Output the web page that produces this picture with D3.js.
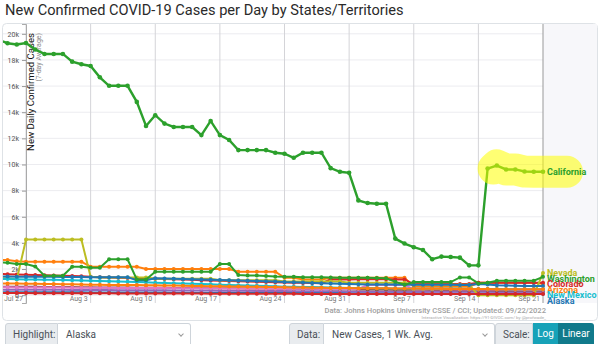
<!DOCTYPE html>
<html>
<head>
<meta charset="utf-8">
<script src="https://cdn.jsdelivr.net/npm/d3@7/dist/d3.min.js"></script>
<style>
  body { margin: 0; width: 600px; height: 344px; overflow: hidden; background: #fff; font-family: Roboto, "Noto Sans", sans-serif; }
  svg { position: absolute; left: 0; top: 0; }
  .grp { position: absolute; top: 323px; height: 24px; display: flex; font-size: 10px; color: #495057; }
  .grp > div { box-sizing: border-box; height: 24px; line-height: 22px; border: 1px solid #ced4da; }
  .lab { background: #e9ecef; padding-left: 7px; border-radius: 3px 0 0 3px; }
  .sel { background: #fff; border-left: none !important; border-radius: 0 3px 3px 0; padding-left: 8px; position: relative; }
  .sel i { position: absolute; right: 7px; top: 8px; width: 3px; height: 3px; border-right: 1px solid #999; border-bottom: 1px solid #999; transform: rotate(45deg); }
  .btn { color: #fff; text-align: center; border: none !important; }
</style>
</head>
<body>
<div class="grp" style="left:5px"><div class="lab" style="width:53px">Highlight:</div><div class="sel" style="width:133px">Alaska<i></i></div></div>
<div class="grp" style="left:289px"><div class="lab" style="width:35px">Data:</div><div class="sel" style="width:171px">New Cases, 1 Wk. Avg.<i></i></div></div>
<div class="grp" style="left:495px"><div class="lab" style="width:38px">Scale:</div><div class="btn" style="width:25px;background:#17a2b8">Log</div><div class="btn" style="width:36px;background:#117a8b;border-radius:0 3px 3px 0">Linear</div></div>
<script>
// daily 7-day averages, Jul 24 .. Sep 21 2022
const firstDay = new Date(2022, 6, 24);
const lastDay = new Date(2022, 8, 21);
const days = d3.timeDays(firstDay, d3.timeDay.offset(lastDay, 1));

const stateNames = ["Alaska", "Arizona", "Colorado", "Hawaii", "Idaho", "Montana", "Nevada",
  "New Mexico", "Oregon", "Utah", "Washington", "Wyoming", "California"];
const labelled = ["California", "Nevada", "Washington", "Colorado", "New Mexico", "Arizona", "Alaska"];

const california = [19550, 19280, 19180, 19300, 18800, 18460, 18460, 18460, 17870, 17670,
  17540, 16670, 16020, 16020, 16020, 14790, 12950, 13770, 13130, 12870,
  12870, 12870, 12250, 13330, 12250, 11870, 11100, 11100, 11100, 11100,
  10900, 10820, 10510, 10900, 10900, 10900, 9720, 9440, 9360, 7250,
  7050, 7000, 7000, 4330, 3950, 3670, 3460, 2750, 2950, 2920,
  2870, 2280, 2280, 9690, 9920, 9620, 9620, 9460, 9440, 9440];
const washington = [2500, 2480, 2380, 2380, 2200, 1480, 1480, 1480, 2180, 2180,
  2100, 2100, 2750, 2750, 2750, 1200, 1200, 1800, 1800, 1800,
  1800, 1800, 1800, 1800, 2380, 2380, 1540, 1500, 1500, 1460,
  1420, 1400, 1400, 1380, 1380, 1370, 1350, 1340, 1340, 1330,
  1330, 1320, 1300, 1020, 800, 1000, 1000, 1000, 1000, 1000,
  1360, 1360, 900, 950, 1100, 1100, 1100, 1100, 1100, 1400];
const nevada = [1300, 1300, 1200, 4250, 4250, 4250, 4250, 4250, 4250, 4250,
  1400, 1350, 1350, 1350, 1350, 1350, 1350, 1250, 1250, 1250,
  1250, 1250, 1250, 1250, 1150, 1150, 1150, 1150, 1150, 1150,
  1150, 1050, 1050, 1050, 1050, 1050, 1050, 1050, 950, 950,
  950, 950, 950, 950, 950, 800, 800, 800, 800, 800,
  800, 800, 0, 0, 0, 0, 0, 0, 0, 1700];
const arizona = [2700, 2690, 2600, 2560, 2560, 2560, 2560, 2560, 2560, 2560,
  2180, 2180, 2180, 2180, 2180, 2180, 2000, 2000, 2000, 2000,
  2000, 2000, 2000, 2000, 2000, 2000, 1800, 1800, 1800, 1800,
  1800, 1340, 1340, 1200, 1200, 1200, 1340, 1340, 1340, 1340,
  1340, 1340, 1340, 1340, 1340, 640, 640, 640, 640, 640,
  640, 640, 950, 950, 950, 950, 950, 950, 950, 880];
const colorado = [1620, 1600, 1580, 1560, 1540, 1520, 1500, 1480, 1460, 1440,
  1400, 1380, 1360, 1340, 1320, 1300, 1280, 1250, 1230, 1210,
  1190, 1170, 1150, 1130, 1100, 1080, 1060, 1040, 1020, 1000,
  980, 960, 950, 940, 930, 920, 1200, 1200, 1200, 1220,
  1220, 1220, 1220, 1200, 1200, 850, 850, 850, 850, 850,
  850, 850, 950, 950, 950, 950, 950, 950, 950, 950];
const oregon = [1420, 1420, 1410, 1400, 1400, 1400, 1400, 1390, 1390, 1390,
  1380, 1380, 1380, 1380, 1380, 1150, 1150, 1300, 1280, 1260,
  1240, 1220, 1200, 1180, 1160, 1140, 1120, 1100, 1080, 1060,
  1040, 1000, 980, 960, 940, 920, 900, 870, 850, 830,
  820, 820, 810, 810, 800, 800, 800, 790, 790, 790,
  780, 780, 850, 820, 760, 740, 720, 710, 700, 700];
const newMexico = [1230, 1230, 1220, 1200, 1190, 1180, 1170, 1160, 1150, 1130,
  1100, 1080, 1060, 1040, 1020, 1000, 980, 950, 930, 910,
  890, 870, 850, 830, 800, 780, 760, 740, 720, 700,
  680, 650, 640, 630, 620, 600, 590, 570, 550, 540,
  540, 530, 520, 510, 510, 500, 500, 500, 490, 490,
  490, 480, 480, 470, 470, 460, 460, 460, 450, 450];
const utah = [900, 900, 890, 880, 870, 860, 850, 840, 830, 820,
  800, 790, 780, 780, 770, 770, 760, 750, 740, 730,
  720, 710, 700, 690, 680, 670, 660, 650, 640, 630,
  620, 600, 590, 580, 570, 560, 550, 545, 540, 535,
  530, 525, 520, 515, 510, 500, 495, 490, 485, 480,
  475, 470, 470, 465, 460, 460, 455, 455, 450, 450];
const montana = [600, 600, 595, 590, 590, 585, 580, 580, 575, 570,
  565, 560, 560, 555, 550, 550, 545, 540, 540, 535,
  530, 530, 525, 520, 520, 515, 510, 510, 505, 500,
  500, 495, 490, 490, 485, 480, 480, 475, 470, 470,
  780, 780, 780, 780, 780, 460, 455, 450, 450, 445,
  440, 440, 435, 430, 430, 425, 420, 420, 420, 420];
const idaho = [650, 650, 645, 640, 635, 630, 625, 620, 615, 610,
  600, 595, 590, 585, 580, 575, 570, 565, 560, 555,
  550, 545, 540, 535, 530, 525, 520, 515, 510, 500,
  495, 490, 485, 480, 470, 465, 460, 455, 450, 440,
  435, 430, 425, 420, 415, 410, 405, 400, 395, 390,
  385, 380, 375, 370, 365, 360, 360, 355, 350, 350];
const hawaii = [420, 420, 415, 415, 410, 410, 405, 405, 400, 400,
  395, 390, 390, 385, 385, 380, 375, 375, 370, 365,
  360, 355, 350, 350, 345, 340, 335, 330, 325, 320,
  315, 310, 305, 300, 300, 295, 290, 290, 285, 285,
  280, 280, 275, 275, 270, 270, 265, 265, 260, 260,
  260, 255, 255, 255, 250, 250, 250, 250, 250, 250];
const wyoming = [160, 160, 158, 156, 154, 152, 150, 148, 146, 144,
  142, 140, 138, 136, 134, 132, 130, 128, 126, 124,
  122, 120, 118, 116, 114, 112, 110, 108, 106, 104,
  102, 100, 100, 98, 98, 96, 96, 94, 94, 92,
  92, 92, 90, 90, 90, 90, 90, 90, 90, 90,
  90, 90, 90, 90, 90, 90, 90, 90, 90, 90];
const alaska = [230, 230, 228, 226, 224, 222, 220, 218, 216, 214,
  210, 208, 206, 204, 202, 200, 198, 196, 194, 192,
  190, 188, 186, 184, 182, 180, 178, 176, 174, 172,
  170, 168, 166, 164, 162, 160, 158, 156, 154, 152,
  150, 148, 146, 144, 142, 140, 138, 136, 134, 132,
  130, 128, 126, 124, 122, 120, 118, 116, 114, 112];

const valuesByState = {
  "Alaska": alaska, "Arizona": arizona, "California": california, "Colorado": colorado,
  "Hawaii": hawaii, "Idaho": idaho, "Montana": montana, "Nevada": nevada,
  "New Mexico": newMexico, "Oregon": oregon, "Utah": utah, "Washington": washington,
  "Wyoming": wyoming
};
const colorByState = {
  "Alaska": "#1f77b4", "Arizona": "#ff7f0e", "California": "#2ca02c", "Colorado": "#d62728",
  "Hawaii": "#9467bd", "Idaho": "#8c564b", "Montana": "#e377c2", "Nevada": "#bcbd22",
  "New Mexico": "#17becf", "Oregon": "#1f77b4", "Utah": "#ff7f0e", "Washington": "#2ca02c",
  "Wyoming": "#d62728"
};

const width = 600, height = 322;
const plotLeft = 3, axisX = 26, plotRight = 543, plotTop = 24, plotBottom = 303;

const svg = d3.select("body").append("svg")
    .attr("width", width)
    .attr("height", height)
    .style("font-family", "Roboto, 'Noto Sans', sans-serif");

svg.append("text")
    .attr("x", 5).attr("y", 15)
    .attr("font-size", 14.6)
    .attr("fill", "#2a2a2a")
    .text("New Confirmed COVID-19 Cases per Day by States/Territories");

svg.append("rect")
    .attr("x", 2.5).attr("y", 23.5).attr("width", 595).attr("height", 297)
    .attr("rx", 4).attr("fill", "#fff").attr("stroke", "#dee2e6");
svg.append("rect")
    .attr("x", plotRight).attr("y", plotTop).attr("width", 597 - plotRight).attr("height", plotBottom - plotTop)
    .attr("fill", "#f7f7fa");

const x = d3.scaleTime()
    .domain([new Date(2022, 6, 27), lastDay])
    .range([axisX, plotRight]);
const y = d3.scaleLinear()
    .domain([-600, 20750])
    .range([plotBottom, plotTop]);

// grid
svg.append("g").selectAll("line")
    .data(y.ticks(10))
    .join("line")
    .attr("x1", plotLeft).attr("x2", plotRight)
    .attr("y1", d => y(d)).attr("y2", d => y(d))
    .attr("stroke", "#ececf0");

const weeks = x.ticks(d3.timeWednesday.every(1));
svg.append("g").selectAll("line")
    .data(weeks)
    .join("line")
    .attr("x1", d => x(d)).attr("x2", d => x(d))
    .attr("y1", plotTop).attr("y2", plotBottom)
    .attr("stroke", (d, i) => i === weeks.length - 1 ? "#999" : "#d4d4d8");

svg.append("g").selectAll("text")
    .data(weeks)
    .join("text")
    .attr("x", d => x(d) - 3).attr("y", 301)
    .attr("text-anchor", "end")
    .attr("font-size", 7).attr("fill", "#777")
    .text(d3.timeFormat("%b %-d"));

const yAxis = svg.append("g")
    .attr("transform", `translate(${axisX},0)`)
    .call(d3.axisLeft(y).ticks(10).tickSize(4).tickFormat(d => d === 0 ? "0" : d / 1000 + "k"));
yAxis.select(".domain").attr("stroke", "#aaa");
yAxis.selectAll(".tick line").attr("stroke", "#999");
yAxis.selectAll("text").attr("font-size", 7).attr("fill", "#555").attr("font-family", "Roboto, sans-serif");

svg.append("text")
    .attr("transform", "translate(34,33) rotate(-90)")
    .attr("text-anchor", "end")
    .attr("font-size", 9.6).attr("fill", "#111")
    .text("New Daily Confirmed Cases");
svg.append("text")
    .attr("transform", "translate(41,33) rotate(-90)")
    .attr("text-anchor", "end")
    .attr("font-size", 7).attr("fill", "#888")
    .text("(7-day Average)");

// series
const series = stateNames.map(name => ({
  name,
  color: colorByState[name],
  points: valuesByState[name].map((v, i) => ({ date: days[i], v }))
}));

svg.append("clipPath").attr("id", "plotClip")
  .append("rect")
    .attr("x", plotLeft).attr("y", plotTop)
    .attr("width", plotRight - plotLeft + 4).attr("height", plotBottom - plotTop + 2);

const plot = svg.append("g").attr("clip-path", "url(#plotClip)");
const line = d3.line().x(d => x(d.date)).y(d => y(d.v));

const labelX = plotRight + 4;
const ca = series.find(s => s.name === "California");
const caLast = ca.points[ca.points.length - 1];
const glowPts = ca.points.slice(-7).map(d => [x(d.date), y(d.v)]);
glowPts[0][0] += 6;
glowPts.push([labelX + 20, y(caLast.v)]);
svg.append("path")
    .attr("d", d3.line()(glowPts))
    .attr("fill", "none")
    .attr("stroke", "#ffff00").attr("stroke-opacity", 0.55)
    .attr("stroke-width", 32)
    .attr("stroke-linecap", "round").attr("stroke-linejoin", "round");

series.forEach(s => {
  const big = s.name === "California";
  plot.append("path")
      .attr("d", line(s.points))
      .attr("fill", "none")
      .attr("stroke", s.color)
      .attr("stroke-width", big ? 2.4 : 2);
  plot.append("g").selectAll("circle")
      .data(s.points)
      .join("circle")
      .attr("cx", d => x(d.date)).attr("cy", d => y(d.v))
      .attr("r", big ? 2.3 : 2)
      .attr("fill", s.color);
});

// end labels, pushed apart
const labels = series.filter(s => labelled.includes(s.name))
    .map(s => ({ s, y: y(s.points[s.points.length - 1].v) }))
    .sort((a, b) => a.y - b.y);
for (let i = 1; i < labels.length; i++) {
  if (labels[i].y < labels[i - 1].y + 5.5) labels[i].y = labels[i - 1].y + 5.5;
}
svg.append("g").selectAll("text")
    .data(labels)
    .join("text")
    .attr("x", labelX).attr("y", d => d.y)
    .attr("dy", "0.35em")
    .attr("font-size", 9).attr("font-weight", "bold")
    .attr("fill", d => d.s.color)
    .text(d => d.s.name);

svg.append("text")
    .attr("x", 546).attr("y", 313)
    .attr("text-anchor", "end")
    .attr("font-size", 7.6).attr("font-weight", 500).attr("fill", "#a0a0a0")
    .text("Data: Johns Hopkins University CSSE / CCI; Updated: 09/22/2022");
svg.append("text")
    .attr("x", 546).attr("y", 319)
    .attr("text-anchor", "end")
    .attr("font-size", 4.4).attr("fill", "#aaa")
    .text("Interactive Visualization: https://91-DIVOC.com/ by @profwade_");
</script>
</body>
</html>
